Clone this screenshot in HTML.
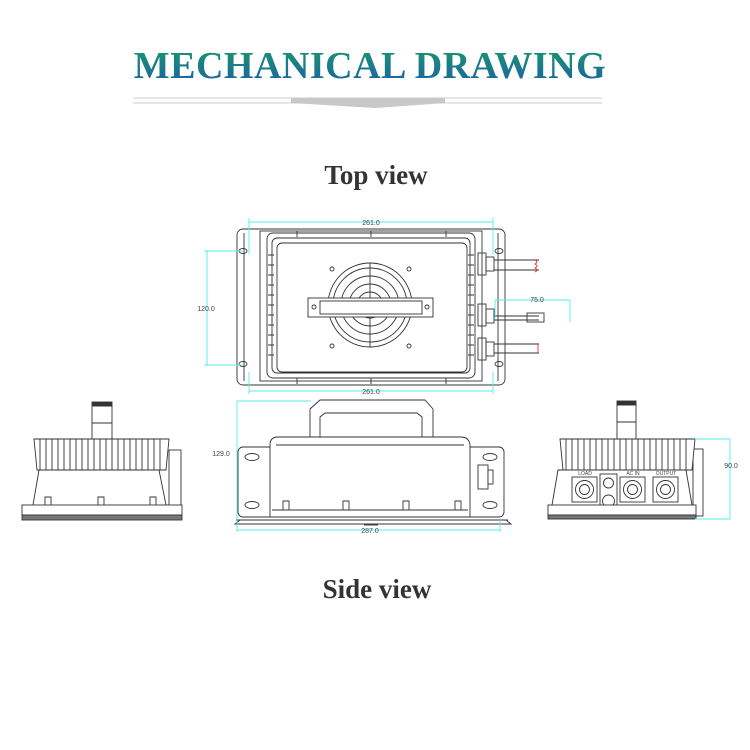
<!DOCTYPE html>
<html><head><meta charset="utf-8"><style>
html,body{margin:0;padding:0;background:#fff;}
svg{display:block}
</style></head><body>
<svg width="750" height="750" viewBox="0 0 750 750" xmlns="http://www.w3.org/2000/svg" font-family="Liberation Sans, sans-serif">
<defs>
<linearGradient id="tg" x1="0" y1="0" x2="0" y2="1">
<stop offset="0" stop-color="#1a9a6a"/><stop offset="1" stop-color="#1a5fa8"/>
</linearGradient>
<g id="fins" stroke="#333" stroke-width="0.8" fill="#fff">
</g>
</defs>
<text x="370" y="78" text-anchor="middle" font-family="Liberation Serif, serif" font-weight="bold" font-size="38" fill="url(#tg)" letter-spacing="0.5">MECHANICAL DRAWING</text>
<line x1="133" y1="98" x2="602" y2="98" stroke="#ccc" stroke-width="1"/>
<line x1="133" y1="103" x2="602" y2="103" stroke="#ccc" stroke-width="1"/>
<polygon points="291,98 445,98 445,103 375,108 291,103" fill="#c8c8c8"/>
<text x="376" y="184" text-anchor="middle" font-family="Liberation Serif, serif" font-weight="bold" font-size="27" fill="#333">Top view</text>
<text x="377" y="598" text-anchor="middle" font-family="Liberation Serif, serif" font-weight="bold" font-size="27" fill="#333">Side view</text>

<!-- TOP VIEW -->
<g stroke="#333" stroke-width="0.9" fill="none">
<rect x="237" y="229" width="268" height="156" rx="6" fill="#fff"/>
<rect x="260" y="231" width="222" height="150"/>
<rect x="267" y="233" width="208" height="145" rx="6"/>
<rect x="272" y="238" width="198" height="135" rx="5"/>
<rect x="277" y="243" width="190" height="129" rx="5"/>
<line x1="244" y1="233" x2="244" y2="381"/><line x1="498" y1="233" x2="498" y2="381"/>
<ellipse cx="243" cy="251" rx="4" ry="2.5"/><ellipse cx="243" cy="364" rx="4" ry="2.5"/>
<ellipse cx="499" cy="251" rx="4" ry="2.5"/><ellipse cx="499" cy="364" rx="4" ry="2.5"/>
<circle cx="370" cy="305" r="42"/><circle cx="370" cy="305" r="37"/>
<circle cx="370" cy="305" r="29"/><circle cx="370" cy="305" r="21"/><circle cx="370" cy="305" r="13"/>
<line x1="370" y1="263" x2="370" y2="347"/>
<rect x="308" y="298" width="125" height="19" fill="#fff"/>
<rect x="320" y="301" width="102" height="13"/>
<circle cx="314" cy="307" r="2"/><circle cx="427" cy="307" r="2"/>
<circle cx="332" cy="269" r="2"/><circle cx="409" cy="269" r="2"/>
<circle cx="332" cy="346" r="2"/><circle cx="409" cy="346" r="2"/>
<path d="M297 231v6M371 231v6M446 231v6M297 378v6M371 378v6M446 378v6"/>
<path d="M268 255h6M268 265h6M268 275h6M268 285h6M268 295h6M268 305h6M268 315h6M268 325h6M268 335h6M268 345h6M268 355h6"/>
<path d="M468 255h6M468 265h6M468 275h6M468 285h6M468 295h6M468 305h6M468 315h6M468 325h6M468 335h6M468 345h6M468 355h6"/>
<rect x="478" y="253" width="8" height="22"/><rect x="478" y="304" width="8" height="22"/><rect x="478" y="338" width="8" height="22"/>
<rect x="486" y="257" width="8" height="14"/><rect x="486" y="309" width="8" height="14"/><rect x="486" y="342" width="8" height="14"/>
<path d="M494 260h45M494 270h45M494 316h45M494 320h45M494 344h45M494 353h45"/>
<rect x="527" y="313" width="17" height="9"/>
</g>
<path d="M535 260q4 2 0 4q4 2 0 4q4 2 0 4M538 344v9" stroke="#e33" fill="none" stroke-width="0.9"/>
<g stroke="#5ee" stroke-width="0.9" fill="none">
<path d="M249 222h244M249 218v36M493 218v36"/>
<path d="M249 391h244M249 372v22M493 372v22"/>
<path d="M207 251v114M204 251h38M204 365h38"/>
<path d="M495 300h75M495 300v18M570 300v22"/>
</g>
<g font-size="7" fill="#444" text-anchor="middle">
<text x="371" y="225">261.0</text><text x="371" y="394">261.0</text>
<text x="206" y="311">120.0</text><text x="537" y="302">75.0</text>
</g>

<!-- MIDDLE SIDE VIEW -->
<g stroke="#333" stroke-width="0.9" fill="#fff">
<path d="M310 437v-28l10-9h105l8 9v28" /><path d="M320 437v-20l5-4h92l5 4v20"/>
<rect x="238" y="447" width="266" height="70" rx="5"/>
<ellipse cx="252" cy="457" rx="7" ry="3.5"/><ellipse cx="490" cy="457" rx="7" ry="3.5"/>
<ellipse cx="252" cy="505" rx="7" ry="3.5"/><ellipse cx="490" cy="505" rx="7" ry="3.5"/>
<path d="M270 517v-72q0-8 8-8h183q8 0 9 8v72z"/>
<path d="M276 445h188"/>
<rect x="478" y="465" width="10" height="24"/><rect x="488" y="470" width="5" height="14"/>
<path d="M236 520h272M240 520l-5 4h276l-5-4" fill="none"/>
<path d="M272 510h196M283 510v-9h6v9M343 510v-9h6v9M403 510v-9h6v9M455 510v-9h6v9" fill="none"/>
<path d="M364 525h14" fill="none"/>
</g>
<g stroke="#5ee" stroke-width="0.9" fill="none">
<path d="M237 401v123M237 401h74"/>
<path d="M237 530h263M237 520v12M500 520v12"/>
</g>
<g font-size="7" fill="#444" text-anchor="middle">
<text x="221" y="456">129.0</text><text x="370" y="533">287.0</text>
</g>

<!-- LEFT SIDE VIEW -->
<g stroke="#333" stroke-width="0.9" fill="#fff">
<rect x="92" y="406" width="20" height="33"/><rect x="92" y="402" width="20" height="4" fill="#333"/>
<path d="M92 423h20"/>
<path d="M33 505l6-35h120l7 35"/>
<rect x="169" y="450" width="12" height="67"/>
<path d="M34 439h135l-3 31H37z"/>
<path d="M40 439v31M46 439v31M52 439v31M58 439v31M64 439v31M70 439v31M76 439v31M82 439v31M88 439v31M94 439v31M100 439v31M106 439v31M112 439v31M118 439v31M124 439v31M130 439v31M136 439v31M142 439v31M148 439v31M154 439v31M160 439v31" fill="none"/>
<rect x="22" y="505" width="160" height="10"/>
<rect x="22" y="515" width="160" height="5" fill="#777"/>
<path d="M45 505v-8h6v8M98 505v-8h6v8M150 505v-8h6v8" fill="none"/>
</g>

<!-- RIGHT SIDE VIEW -->
<g stroke="#333" stroke-width="0.9" fill="#fff">
<rect x="617" y="405" width="19" height="34"/><rect x="617" y="401" width="19" height="4" fill="#333"/>
<path d="M617 422h19"/>
<path d="M552 505l6-35h128l6 35"/>
<rect x="693" y="449" width="10" height="67"/>
<path d="M560 439h135l-3 31H563z"/>
<path d="M566 439v31M572 439v31M578 439v31M584 439v31M590 439v31M596 439v31M602 439v31M608 439v31M614 439v31M620 439v31M626 439v31M632 439v31M638 439v31M644 439v31M650 439v31M656 439v31M662 439v31M668 439v31M674 439v31M680 439v31M686 439v31" fill="none"/>
<rect x="572" y="477" width="25" height="25"/><circle cx="584.5" cy="489.5" r="9"/><circle cx="584.5" cy="489.5" r="5"/>
<rect x="620" y="477" width="25" height="25"/><circle cx="632.5" cy="489.5" r="9"/><circle cx="632.5" cy="489.5" r="5"/>
<rect x="653" y="477" width="25" height="25"/><circle cx="665.5" cy="489.5" r="9"/><circle cx="665.5" cy="489.5" r="5"/>
<rect x="600" y="474" width="17" height="38"/><circle cx="608.5" cy="483" r="5"/><circle cx="608.5" cy="501" r="6"/>
<rect x="548" y="505" width="148" height="10"/>
<rect x="548" y="515" width="148" height="4" fill="#777"/>
</g>
<g font-size="5" fill="#444" text-anchor="middle"><text x="585" y="475">LOAD</text><text x="633" y="475">AC IN</text><text x="666" y="475">OUTPUT</text></g>
<g stroke="#5ee" stroke-width="0.9" fill="none"><path d="M695 439h35v80h-35"/></g>
<text x="731" y="468" font-size="7" fill="#444" text-anchor="middle">90.0</text>
</svg>
</body></html>
